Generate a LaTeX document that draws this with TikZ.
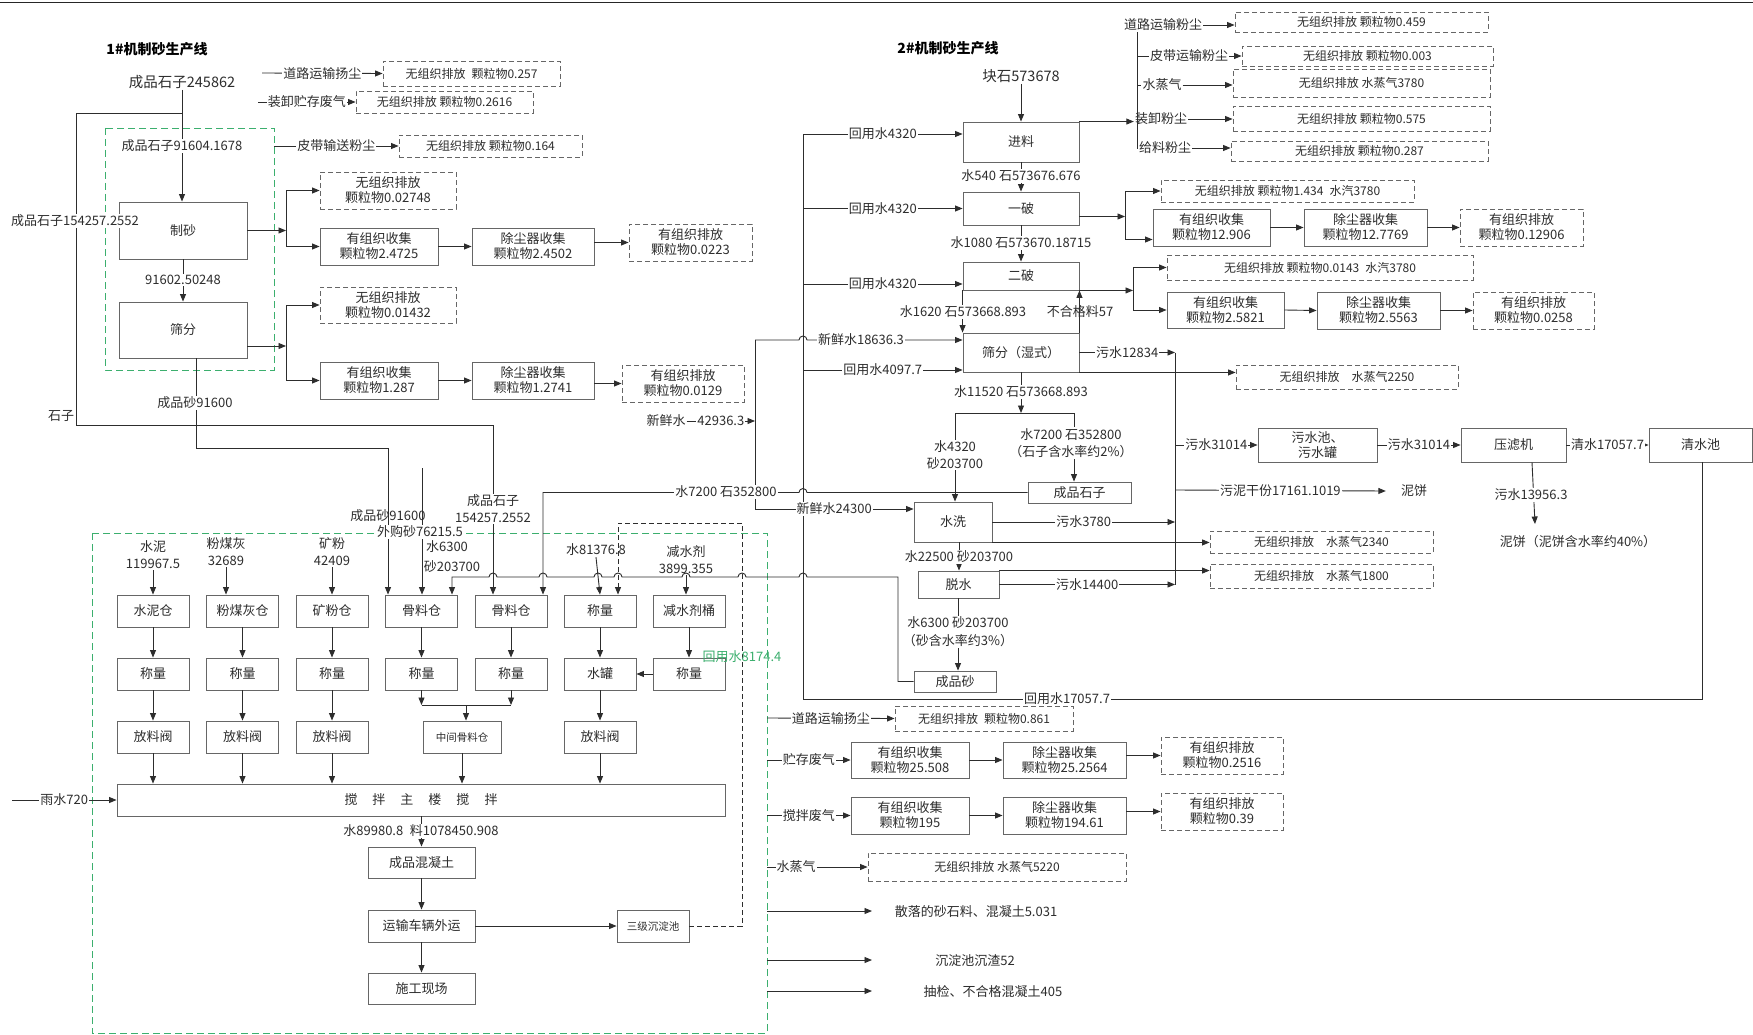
\documentclass[tikz,border=0pt]{standalone}
\usepackage{fontspec}
\setmainfont{Noto Sans CJK SC}
\usetikzlibrary{arrows.meta,calc}
\definecolor{gr}{RGB}{60,175,110}
\definecolor{ink}{RGB}{45,45,45}
\newcommand\bx[7][]{\pgfmathsetmacro\bxw{#5-#3}\pgfmathsetmacro\bxh{#6-#4}\pgfmathsetmacro\bxcx{(#3+#5)/2}\pgfmathsetmacro\bxcy{(#4+#6)/2}\node[box,#1,minimum width=\bxw pt,minimum height=\bxh pt] (#2) at (\bxcx,\bxcy) {#7};}
\begin{document}
\begin{tikzpicture}[x=1pt,y=-1pt,
 ln/.style={draw=ink,line width=0.9pt},
 arr/.style={ln,-{Triangle[length=7.5pt,width=6pt]}},
 box/.style={draw=black!60,line width=0.9pt,inner sep=0.5pt,align=center,text=ink,font=\fontsize{13}{15}\selectfont},
 dbox/.style={box,dash pattern=on 5pt off 3pt},
 lbl/.style={inner sep=1pt,align=center,text=ink,font=\fontsize{13}{16}\selectfont},
 wl/.style={lbl,fill=white},
 big/.style={font=\fontsize{14.5}{17}\selectfont},
 sm/.style={font=\fontsize{12}{14}\selectfont},
 xs/.style={font=\fontsize{10.5}{12}\selectfont},
 two/.style={font=\fontsize{13}{17}\selectfont},
 ttl/.style={lbl,font=\fontsize{14}{17}\selectfont\bfseries,text=black},
 gdash/.style={draw=gr,line width=0.9pt,dash pattern=on 7pt off 4pt},
 hp/.style={}]
\useasboundingbox (0,0) rectangle (1753,1035);
\fill[white] (0,0) rectangle (1753,1035);
\draw[line width=1.3pt,black!85] (0,2.5) -- (1753,2.5);
\draw[gdash] (105,128) rectangle (274,370);
\draw[gdash] (92,533) rectangle (767,1033);

% ===== 1# line nodes =====
\node[ttl] (t1) at (157,49) {1\#机制砂生产线};
\node[lbl,big] (s245) at (182,82) {成品石子245862};
\bx{zs}{119}{202}{247}{259}{制砂}
\bx{sf}{119}{302}{247}{358}{筛分}
\bx[dbox,sm]{e1}{383}{61}{560}{86}{无组织排放\enspace 颗粒物0.257}
\bx[dbox,sm]{e2}{356}{91}{533}{113}{无组织排放 颗粒物0.2616}
\bx[dbox,sm]{e3}{399}{135}{582}{157}{无组织排放 颗粒物0.164}
\bx[dbox]{e4}{320}{172}{456}{209}{无组织排放\\颗粒物0.02748}
\bx{e5}{320}{228}{438}{265}{有组织收集\\颗粒物2.4725}
\bx{e6}{472}{228}{594}{265}{除尘器收集\\颗粒物2.4502}
\bx[dbox]{e7}{629}{224}{752}{261}{有组织排放\\颗粒物0.0223}
\bx[dbox]{e8}{320}{287}{456}{323}{无组织排放\\颗粒物0.01432}
\bx{e9}{320}{362}{438}{399}{有组织收集\\颗粒物1.287}
\bx{e10}{472}{362}{594}{399}{除尘器收集\\颗粒物1.2741}
\bx[dbox]{e11}{622}{365}{744}{402}{有组织排放\\颗粒物0.0129}

% ===== concrete plant nodes =====
\bx{sn}{117}{595}{189}{627}{水泥仓}
\bx{fm}{206.5}{595}{278.5}{627}{粉煤灰仓}
\bx{kf}{296}{595}{368}{627}{矿粉仓}
\bx{ga}{385.5}{595}{457.5}{627}{骨料仓}
\bx{gb}{475}{595}{547}{627}{骨料仓}
\bx{cl}{564}{595}{636}{627}{称量}
\bx{jt}{653}{595}{725}{627}{减水剂桶}
\bx{wa}{117}{658}{189}{690}{称量}
\bx{wb}{206.5}{658}{278.5}{690}{称量}
\bx{wc}{296}{658}{368}{690}{称量}
\bx{wd}{385.5}{658}{457.5}{690}{称量}
\bx{we}{475}{658}{547}{690}{称量}
\bx{sg}{564}{658}{636}{690}{水罐}
\bx{wf}{653}{658}{725}{690}{称量}
\bx{va}{117}{721}{189}{753}{放料阀}
\bx{vb}{206.5}{721}{278.5}{753}{放料阀}
\bx{vc}{296}{721}{368}{753}{放料阀}
\bx[xs]{zj}{423}{721}{501}{753}{中间骨料仓}
\bx{vd}{564}{721}{636}{753}{放料阀}
\bx{mx}{117}{784}{725}{816}{搅\hspace{15pt}拌\hspace{15pt}主\hspace{15pt}楼\hspace{15pt}搅\hspace{15pt}拌}
\bx{cp}{368}{847}{475}{878}{成品混凝土}
\bx{ys}{368}{910}{475}{942}{运输车辆外运}
\bx{sc}{368}{973}{475}{1004}{施工现场}
\bx[xs]{cd}{617}{910}{689}{942}{三级沉淀池}
\node[lbl,two] (ia) at (153,555) {水泥\\119967.5};
\node[lbl,two] (ib) at (226,552) {粉煤灰\\32689};
\node[lbl,two] (ic) at (332,552) {矿粉\\42409};
\node[lbl] (ie) at (596,550) {水81376.8};
\node[lbl,two] (ig) at (686,560) {减水剂\\3899.355};
\node[lbl] (lsa) at (388,516) {成品砂91600};
\node[lbl] (lsc) at (447,547) {水6300};
\node[lbl] (lsd) at (452,567) {砂203700};
\coordinate (wg) at (422,468);
\coordinate (rain) at (12,800);

% right of plant
\bx[dbox,sm]{f1}{895}{706}{1073}{731}{无组织排放\enspace 颗粒物0.861}
\bx{f2}{851}{742}{969}{778}{有组织收集\\颗粒物25.508}
\bx{f3}{1003}{742}{1126}{778}{除尘器收集\\颗粒物25.2564}
\bx[dbox]{f4}{1161}{737}{1283}{774}{有组织排放\\颗粒物0.2516}
\bx{f5}{851}{797}{969}{834}{有组织收集\\颗粒物195}
\bx{f6}{1003}{797}{1126}{834}{除尘器收集\\颗粒物194.61}
\bx[dbox]{f7}{1161}{793}{1283}{830}{有组织排放\\颗粒物0.39}
\bx[dbox,sm]{f8}{868}{853}{1126}{881}{无组织排放 水蒸气5220}
\node[lbl] (o1) at (976,912) {散落的砂石料、混凝土5.031};
\node[lbl] (o2) at (975,961) {沉淀池沉渣52};
\node[lbl] (o3) at (993,992) {抽检、不合格混凝土405};
\coordinate (p1) at (767,718);
\coordinate (p2) at (767,760);
\coordinate (p3) at (767,815.5);
\coordinate (p4) at (767,867);
\coordinate (p5) at (767,911);
\coordinate (p6) at (767,960);
\coordinate (p7) at (767,991);
\coordinate (q5) at (872,911);
\coordinate (q6) at (872,960);
\coordinate (q7) at (872,991);

% ===== 2# line nodes =====
\node[ttl] (t2) at (948,48) {2\#机制砂生产线};
\node[lbl,big] (ks) at (1021,76) {块石573678};
\bx{jl}{963}{122}{1079}{162}{进料}
\bx{yp}{963}{192}{1079}{225}{一破}
\bx{ep}{963}{262}{1079}{290}{二破}
\bx{sfs}{963}{333}{1079}{372}{筛分（湿式）}
\bx{sx}{914}{502}{992}{542}{水洗}
\bx{ts}{918}{571}{999}{598}{脱水}
\bx{cps}{914}{671}{996}{692}{成品砂}
\bx{cpz}{1028}{482}{1131}{503}{成品石子}
\bx{wsc}{1258}{428}{1377}{462}{污水池、\\污水罐}
\bx{ylj}{1461}{428}{1566}{462}{压滤机}
\bx{qsc}{1649}{428}{1752}{462}{清水池}
\bx[dbox,sm]{g1}{1235}{12}{1488}{32}{无组织排放 颗粒物0.459}
\bx[dbox,sm]{g2}{1242}{46}{1493}{66}{无组织排放 颗粒物0.003}
\bx[dbox,sm]{g3}{1233}{69}{1490}{97}{无组织排放 水蒸气3780}
\bx[dbox,sm]{g4}{1233}{106}{1490}{131}{无组织排放 颗粒物0.575}
\bx[dbox,sm]{g5}{1231}{141}{1488}{161}{无组织排放 颗粒物0.287}
\bx[dbox,sm]{k1}{1161}{180}{1414}{202}{无组织排放 颗粒物1.434\enspace 水汽3780}
\bx{k2}{1153}{209}{1270}{246}{有组织收集\\颗粒物12.906}
\bx{k3}{1304}{209}{1427}{246}{除尘器收集\\颗粒物12.7769}
\bx[dbox]{k4}{1460}{209}{1583}{246}{有组织排放\\颗粒物0.12906}
\bx[dbox,sm]{k5}{1167}{255}{1473}{280}{无组织排放 颗粒物0.0143\enspace 水汽3780}
\bx{k6}{1167}{292}{1284}{328}{有组织收集\\颗粒物2.5821}
\bx{k7}{1317}{292}{1440}{329}{除尘器收集\\颗粒物2.5563}
\bx[dbox]{k8}{1473}{292}{1594}{329}{有组织排放\\颗粒物0.0258}
\bx[dbox,sm]{k9}{1236}{365}{1458}{389}{无组织排放\quad 水蒸气2250}
\bx[dbox,sm]{k10}{1210}{531}{1433}{553}{无组织排放\quad 水蒸气2340}
\bx[dbox,sm]{k11}{1210}{564}{1433}{588}{无组织排放\quad 水蒸气1800}
\node[wl] (h1) at (1163,25) {道路运输粉尘};
\node[wl] (h2) at (1189,56) {皮带运输粉尘};
\node[wl] (h3) at (1162,85) {水蒸气};
\node[wl] (h4) at (1161,119) {装卸粉尘};
\node[wl] (h5) at (1165,148) {给料粉尘};
\node[lbl] (xx) at (666,421) {新鲜水};
\node[lbl] (nb1) at (1414,491) {泥饼};
\node[lbl] (nb2) at (1578,542) {泥饼（泥饼含水率约40\%）};
\coordinate (nbt) at (1535,524);

% ===== connectors: 1# =====
\coordinate (j1) at (182,113);
\draw[arr] (s245.south) -- (s245.south |- zs.north);
\draw[arr] (j1) -- (76,113) -- (76,425) -- (493,425) -- (493,0 |- gb.north);
\draw[arr] (zs.south) -- (sf.north);
\draw[arr] (196,0 |- sf.south) -- (196,448) -| (388,0 |- ga.north);
\draw[arr] (wg) -- (422,0 |- ga.north);
\coordinate (r1) at (262,73);
\coordinate (r2) at (258,102);
\coordinate (g1c) at (274,146);
\draw[arr] (r1) -- node[wl]{道路运输扬尘} (e1.west);
\draw[arr] (r2) -- node[wl]{装卸贮存废气} (e2.west);
\draw[arr] (g1c) -- node[wl]{皮带输送粉尘} (e3.west);
\draw[arr] (zs.east) -- (286,0 |- zs.east);
\draw[arr] (286,0 |- zs.east) |- (e4.west);
\draw[arr] (286,0 |- zs.east) |- (e5.west);
\draw[arr] (e5.east) -- (e6.west);
\draw[arr] (e6.east |- e7.west) -- (e7.west);
\coordinate (sfo) at ($(sf.east)+(0,16)$);
\draw[arr] (sfo) -- (286,0 |- sfo);
\draw[arr] (286,0 |- sfo) |- (e8.west);
\draw[arr] (286,0 |- sfo) |- (e9.west);
\draw[arr] (e9.east) -- (e10.west);
\draw[arr] (e10.east |- e11.west) -- (e11.west);

% ===== connectors: plant =====
\draw[arr] (ia.south) -- (ia.south |- sn.north);
\draw[arr] (ib.south) -- (ib.south |- fm.north);
\draw[arr] (ic.south) -- (ic.south |- kf.north);
\draw[arr] (ie.south) -- (cl.north);
\draw[arr] (ig.south) -- (ig.south |- jt.north);
\foreach \a/\b in {sn/wa,fm/wb,kf/wc,ga/wd,gb/we,cl/sg,jt/wf,wa/va,wb/vb,wc/vc,sg/vd}
  \draw[arr] (\a.south) -- (\b.north);
\draw[arr] (wf.west) -- (sg.east);
\coordinate (jz) at (466,705);
\draw[arr] (wd.south) -- (wd.south |- jz);
\draw[arr] (we.south) -- (we.south |- jz);
\draw[ln] (wd.south |- jz) -- (we.south |- jz);
\draw[arr] (jz) -- (jz |- zj.north);
\foreach \a in {va,vb,vc,zj,vd}
  \draw[arr] (\a.south) -- (\a.south |- mx.north);
\draw[arr] (rain) -- node[wl]{雨水720} (mx.west);
\draw[arr] (cp.north |- mx.south) -- (cp.north);
\draw[arr] (cp.south) -- (ys.north);
\draw[arr] (ys.south) -- (sc.north);
\draw[arr] (ys.east) -- (cd.west);
\draw[ln,dash pattern=on 5pt off 3pt,-{Triangle[length=7.5pt,width=6pt]}] (cd.east) -- (742,0 |- cd.east) -- (742,523) -- (618,523) -- (618,0 |- cl.north);
\node[lbl,text=gr] (rw) at (742,657) {回用水8174.4};
\draw[arr] (p1) -- node[wl]{道路运输扬尘} (f1.west);
\draw[arr] (p2) -- node[wl]{贮存废气} (f2.west);
\draw[arr] (f2.east) -- (f3.west);
\draw[arr] (f3.east |- f4.west) -- (f4.west);
\draw[arr] (p3) -- node[wl]{搅拌废气} (f5.west);
\draw[arr] (f5.east) -- (f6.west);
\draw[arr] (f6.east |- f7.west) -- (f7.west);
\draw[arr] (p4) -- node[wl,pos=0.29]{水蒸气} (f8.west);
\draw[arr] (p5) -- (q5);
\draw[arr] (p6) -- (q6);
\draw[arr] (p7) -- (q7);

% ===== connectors: 2# =====
\draw[arr] (ks.south) -- (jl.north);
\draw[ln] (1137,0 |- h1.south) -- (1137,148);
\draw[ln] (1137,0 |- h2.west) -- (h2.west);
\draw[ln] (1137,0 |- h3.west) -- (h3.west);
\draw[ln] (1137,0 |- h5.west) -- (h5.west);
\draw[arr] (h1.east) -- (h1.east -| g1.west);
\draw[arr] (h2.east) -- (h2.east -| g2.west);
\draw[arr] (h3.east) -- (h3.east -| g3.west);
\draw[arr] (h4.east) -- (h4.east -| g4.west);
\draw[arr] (h5.east) -- (h5.east -| g5.west);
\draw[arr] (jl.north east) -- (jl.north east -| h4.west);
\draw[ln] (qsc.south -| 1702,0) -- (1702,699) -- (803,699) -- (803,134);
\draw[arr] (803,134) -- node[wl]{回用水4320} (jl.west |- 0,134);
\draw[arr] (803,0 |- yp.west) -- node[wl]{回用水4320} (yp.west);
\draw[arr] (803,284) -- node[wl]{回用水4320} (ep.west |- 0,284);
\draw[arr] (803,370) -- node[wl]{回用水4097.7} (sfs.west |- 0,370);
\draw[ln] (755,340) -- (755,509);
\draw[arr] (755,340) -- (799,340) arc[start angle=180,end angle=360,radius=4] -- (sfs.west |- 0,340);
\draw[arr] (xx.east) -- node[wl]{42936.3} (755,0 |- xx.east);
\draw[arr] (755,509) -- node[wl]{新鲜水24300} (sx.west |- 0,509);
\draw[arr] (jl.south) -- (yp.north);
\draw[arr] (yp.south) -- (ep.north);
\draw[arr] (ep.south west) -- (sfs.north west);
\draw[arr] (sfs.north east) -- (ep.south east);
\coordinate (ypo) at ($(yp.east)+(0,8)$);
\draw[arr] (ypo) -- (1125,0 |- ypo);
\draw[arr] (1125,0 |- ypo) |- (k1.west);
\draw[arr] (1125,0 |- ypo) |- ($(k2.west)+(0,12)$);
\draw[arr] (k2.east) -- (k3.west);
\draw[arr] (k3.east) -- (k4.west);
\draw[arr] (ep.south east) -- (1133,0 |- ep.south east);
\draw[arr] (1133,0 |- ep.south east) |- (k5.west);
\draw[arr] (1133,0 |- ep.south east) |- (k6.west);
\draw[arr] (k6.east) -- (k7.west);
\draw[arr] (k7.east) -- (k8.west);
\draw[arr] (sfs.east) -- node[wl]{污水12834} (1175,0 |- sfs.east);
\draw[arr] (sfs.south east) -- (sfs.south east -| k9.west);
\draw[ln] (1175,0 |- sfs.east) -- (1175,0 |- ts.east);
\draw[arr] (sfs.south) -- (1021,413);
\draw[ln] (955,413) -- (1074,413);
\draw[arr] (955,413) -- (955,0 |- sx.north);
\draw[arr] (1074,413) -- (1074,0 |- cpz.north);
\draw[arr] (cpz.west) -- (807,0 |- cpz.west) arc[start angle=360,end angle=180,radius=4] -- (543,0 |- cpz.west) -- (543,0 |- gb.north);
\draw[arr] (sx.east) -- node[wl]{污水3780} (1175,0 |- sx.east);
\draw[arr] (sx.south east) -- (sx.south east -| k10.west);
\draw[arr] (959,0 |- sx.south) -- (959,0 |- ts.north);
\draw[arr] (ts.north east) -- (ts.north east -| k11.west);
\draw[arr] (ts.east) -- node[wl]{污水14400} (1175,0 |- ts.east);
\draw[arr] (958,0 |- ts.south) -- (958,0 |- cps.north);
\draw[arr] (cps.west) -- (898,0 |- cps.west) -- (898,577)
  -- (807,577) arc[start angle=360,end angle=180,radius=4]
  -- (746,577) arc[start angle=360,end angle=180,radius=4]
  -- (690,577) arc[start angle=360,end angle=180,radius=4]
  -- (622,577) arc[start angle=360,end angle=180,radius=4]
  -- (602,577) arc[start angle=360,end angle=180,radius=4]
  -- (547,577) arc[start angle=360,end angle=180,radius=4]
  -- (497,577) arc[start angle=360,end angle=180,radius=4]
  -- (452,577) -- (452,0 |- ga.north);
\draw[arr] (1175,445) -- node[wl]{污水31014} (wsc.west);
\draw[arr] (1175,490) -- node[wl]{污泥干份17161.1019} ($(nb1.west)+(-14,0)$);
\draw[arr] (wsc.east) -- node[wl]{污水31014} (ylj.west);
\draw[arr] (ylj.east) -- node[wl]{清水17057.7} (qsc.west);
\draw[arr] (1532,0 |- ylj.south) -- (nbt);

% ===== overlay labels =====
\node[wl] (ol1) at (182,146) {成品石子91604.1678};
\node[wl] (ol2) at (75,221) {成品石子154257.2552};
\node[wl] (ol3) at (183,280) {91602.50248};
\node[wl] (ol4) at (195,403) {成品砂91600};
\node[lbl] (ol5) at (61,416) {石子};
\node[wl,two] (ol6) at (493,509) {成品石子\\154257.2552};
\node[wl] (lsb) at (420,532) {外购砂76215.5};
\node[wl] (ol7) at (421,831) {水89980.8\enspace 料1078450.908};
\node[wl] (ol8) at (1021,176) {水540 石573676.676};
\node[wl] (ol9) at (1021,243) {水1080 石573670.18715};
\node[wl] (ol10) at (963,312) {水1620 石573668.893};
\node[lbl] (ol11) at (1080,312) {不合格料57};
\node[wl] (ol12) at (861,340) {新鲜水18636.3};
\node[wl] (ol13) at (1021,392) {水11520 石573668.893};
\node[wl,two] (ol14) at (955,455) {水4320\\砂203700};
\node[wl,two] (ol15) at (1071,443) {水7200 石352800\\（石子含水率约2\%）};
\node[wl] (ol16) at (726,492) {水7200 石352800};
\node[wl] (ol17) at (959,557) {水22500 砂203700};
\node[wl,font=\fontsize{13}{18}\selectfont] (ol18) at (958,632) {水6300 砂203700\\（砂含水率约3\%）};
\node[wl] (ol19) at (1067,699) {回用水17057.7};
\node[wl] (ol20) at (1531,495) {污水13956.3};
\end{tikzpicture}
\end{document}
